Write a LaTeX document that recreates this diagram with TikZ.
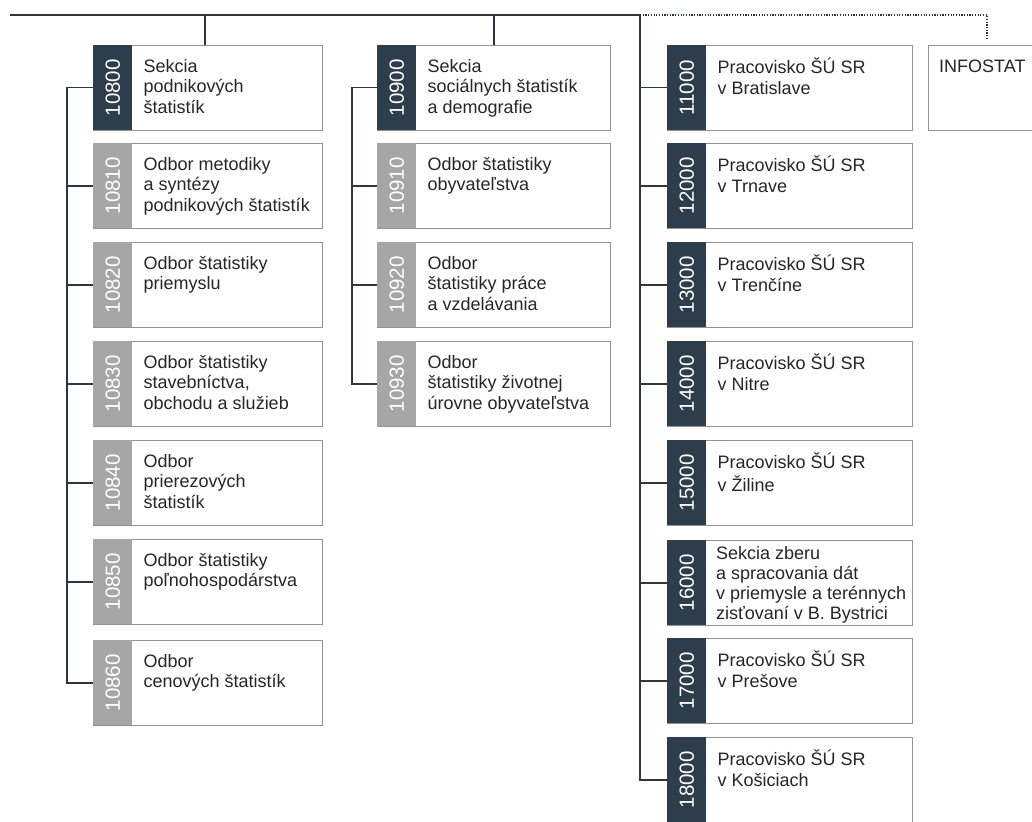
\documentclass[tikz,border=0pt]{standalone}
\usepackage{fontspec}
\setmainfont{Liberation Sans}
\definecolor{navy}{HTML}{2E3D4C}
\definecolor{tabgray}{HTML}{A6A6A6}
\definecolor{edge}{HTML}{929292}
\definecolor{wire}{HTML}{2F3540}
\definecolor{ink}{HTML}{262626}
\tikzset{
  unitbox/.style={draw=edge, line width=0.9pt, minimum height=85pt, inner sep=0pt, rectangle},
  tabbox/.style={fill=#1, minimum width=39pt, minimum height=85pt, inner sep=0pt, rectangle},
  numtext/.style={rotate=90, text=white, inner sep=0pt, font=\fontsize{20.5}{20.5}\selectfont},
  unittext/.style={align=left, inner sep=0pt, text=ink, font=\fontsize{18}{20.5}\selectfont},
  wireline/.style={draw=wire, line width=1.1pt},
  trunkline/.style={draw=wire, line width=1.4pt},
  dotline/.style={draw=wire, line width=1.3pt, dash pattern=on 1.2pt off 1.5pt}
}
\newcommand{\orgunit}[7]{%
  \node[unitbox, minimum width=#4pt, anchor=north west] (#1) at (#2,#3) {};
  \node[tabbox=#6, anchor=north west] (#1tab) at (#1.north west) {};
  \node[numtext] (#1num) at (#1tab.center) {#5};
  \node[unittext, anchor=north west] (#1txt) at ([xshift=50.5pt, yshift=-12.6pt]#1.north west) {\strut #7};
}
\begin{document}
\begin{tikzpicture}[x=1pt, y=-1pt]
\useasboundingbox (0,0) rectangle (1032,821);
\fill[white] (0,0) rectangle (1032,821);

% column 1
\orgunit{u10800}{93}{45}{229}{10800}{navy}{Sekcia\\podnikových\\štatistík}
\orgunit{u10810}{93}{143}{229}{10810}{tabgray}{Odbor metodiky\\a syntézy\\podnikových štatistík}
\orgunit{u10820}{93}{242}{229}{10820}{tabgray}{Odbor štatistiky\\priemyslu}
\orgunit{u10830}{93}{341}{229}{10830}{tabgray}{Odbor štatistiky\\stavebníctva,\\obchodu a služieb}
\orgunit{u10840}{93}{440}{229}{10840}{tabgray}{Odbor\\prierezových\\štatistík}
\orgunit{u10850}{93}{539}{229}{10850}{tabgray}{Odbor štatistiky\\poľnohospodárstva}
\orgunit{u10860}{93}{640}{229}{10860}{tabgray}{Odbor\\cenových štatistík}

% column 2
\orgunit{u10900}{377}{45}{233}{10900}{navy}{Sekcia\\sociálnych štatistík\\a demografie}
\orgunit{u10910}{377}{143}{233}{10910}{tabgray}{Odbor štatistiky\\obyvateľstva}
\orgunit{u10920}{377}{242}{233}{10920}{tabgray}{Odbor\\štatistiky práce\\a vzdelávania}
\orgunit{u10930}{377}{341}{233}{10930}{tabgray}{Odbor\\štatistiky životnej\\úrovne obyvateľstva}

% column 3
\orgunit{u11000}{667}{45}{245}{11000}{navy}{Pracovisko ŠÚ SR\\v Bratislave}
\orgunit{u12000}{667}{143}{245}{12000}{navy}{Pracovisko ŠÚ SR\\v Trnave}
\orgunit{u13000}{667}{242}{245}{13000}{navy}{Pracovisko ŠÚ SR\\v Trenčíne}
\orgunit{u14000}{667}{341}{245}{14000}{navy}{Pracovisko ŠÚ SR\\v Nitre}
\orgunit{u15000}{667}{440}{245}{15000}{navy}{Pracovisko ŠÚ SR\\v Žiline}
\node[unitbox, minimum width=245pt, anchor=north west] (u16000) at (667,540) {};
\node[tabbox=navy, anchor=north west] (u16000tab) at (u16000.north west) {};
\node[numtext] (u16000num) at (u16000tab.center) {16000};
\node[unittext, font=\fontsize{18}{20}\selectfont, anchor=north west] (u16000txt) at ([xshift=49pt, yshift=-5pt]u16000.north west) {\strut Sekcia zberu\\a spracovania dát\\v priemysle a terénnych\\zisťovaní v B. Bystrici};
\orgunit{u17000}{667}{638}{245}{17000}{navy}{Pracovisko ŠÚ SR\\v Prešove}
\orgunit{u18000}{667}{737}{245}{18000}{navy}{Pracovisko ŠÚ SR\\v Košiciach}

% INFOSTAT
\node[unitbox, minimum width=120pt, anchor=north west] (info) at (928,45) {};
\node[unittext, anchor=north west] (infotxt) at ([xshift=11pt, yshift=-12.6pt]info.north west) {\strut INFOSTAT};

% trunk
\coordinate (topL) at (10,15);
\coordinate (j1) at (205,15);
\coordinate (j2) at (494,15);
\coordinate (j3) at (640,15);
\coordinate (jd) at (987,15);
\draw[trunkline] (topL) -- (j3);
\draw[wireline] (j1) -- (j1 |- u10800.north);
\draw[wireline] (j2) -- (j2 |- u10900.north);
\draw[dotline] (j3) -- (jd) -- ([yshift=5pt]jd |- info.north);

% column 1 bracket
\coordinate (b1) at (67,0);
\draw[wireline] (u10800.west) -- (u10800.west -| b1) |- (u10860.west);
\foreach \u in {u10810,u10820,u10830,u10840,u10850}
  \draw[wireline] (\u.west) -- (\u.west -| b1);

% column 2 bracket
\coordinate (b2) at (352,0);
\draw[wireline] (u10900.west) -- (u10900.west -| b2) |- (u10930.west);
\foreach \u in {u10910,u10920}
  \draw[wireline] (\u.west) -- (\u.west -| b2);

% column 3 spine
\draw[wireline] (j3) |- (u18000.west);
\foreach \u in {u11000,u12000,u13000,u14000,u15000,u16000,u17000}
  \draw[wireline] (\u.west) -- (\u.west -| j3);
\end{tikzpicture}
\end{document}
